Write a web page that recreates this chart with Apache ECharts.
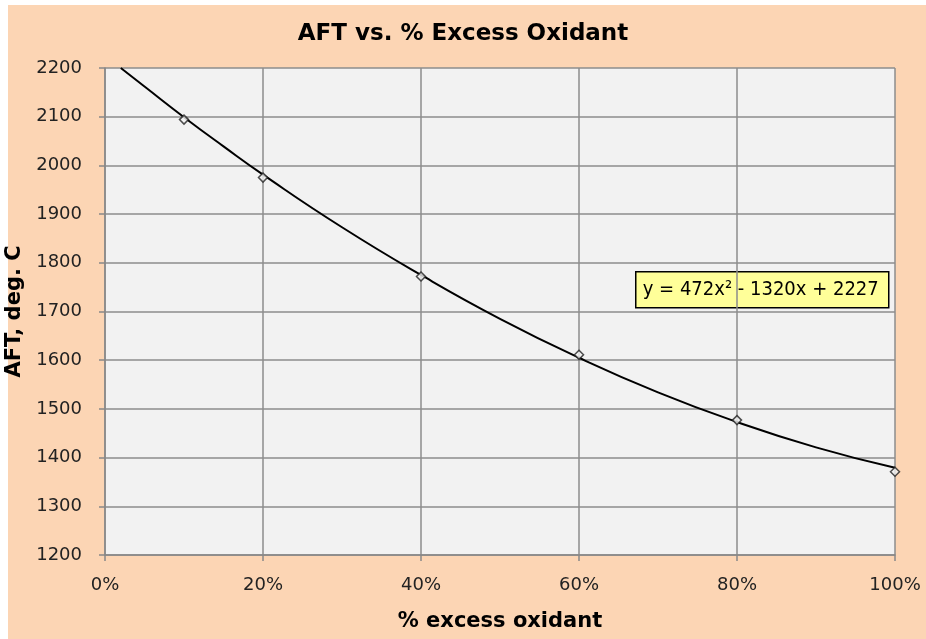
<!DOCTYPE html>
<html><head><meta charset="utf-8">
<script src="https://cdn.jsdelivr.net/npm/echarts@6/dist/echarts.min.js"></script>
<style>html,body{margin:0;padding:0;background:#fff}#c{width:926px;height:639px}</style>
</head><body><div id="c"></div>
<script>
// measured data points (fraction excess oxidant, AFT deg C)
var pointX = [0.1, 0.2, 0.4, 0.6, 0.8, 1.0];
var pointY = [2094, 1975, 1772, 1611, 1477, 1371];
// trendline
var trendX = [0.02, 0.05, 0.1, 0.15, 0.2, 0.3, 0.4, 0.5, 0.6, 0.7, 0.8, 0.9, 1.0];
var trendY = [2200, 2162, 2099, 2039, 1981, 1873, 1775, 1685, 1605, 1534, 1473, 1421, 1379];
var xTicks = [0, 0.2, 0.4, 0.6, 0.8, 1.0];
var yTicks = [1200, 1300, 1400, 1500, 1600, 1700, 1800, 1900, 2000, 2100, 2200];
var equation = 'y = 472x² - 1320x + 2227';

var chart = echarts.init(document.getElementById('c'));
var pts = pointX.map(function(x,i){return [x, pointY[i]];});
var trend = trendX.map(function(x,i){return [x, trendY[i]];});
var boldFont = '"DejaVu Sans", sans-serif';
chart.setOption({
  backgroundColor: '#ffffff',
  animation: false,
  graphic: [
    {type:'rect', z:-10, shape:{x:8,y:5,width:918,height:634}, style:{fill:'#FCD5B4'}},
    {type:'group', left:635, top:271, z:100, children:[
      {type:'rect', shape:{x:0,y:0,width:253,height:36}, style:{fill:'#FFFF99', stroke:'#000', lineWidth:1.5}},
      {type:'text', x:7, y:18, style:{text:equation, fill:'#000', font:'20px "DejaVu Sans Condensed", "DejaVu Sans", sans-serif', verticalAlign:'middle'}}
    ]}
  ],
  title: {
    text: 'AFT vs. % Excess Oxidant', left: 'center', top: 18,
    textStyle: {fontFamily:boldFont, fontWeight:'bold', fontSize:23, color:'#000'}
  },
  grid: {left:105, top:68, right:31, bottom:84, show:true, backgroundColor:'#F2F2F2', borderWidth:0,
         containLabel:false, outerBoundsMode:'none'},
  xAxis: {
    type:'value', min:0, max:1, interval:0.2,
    name:'% excess oxidant', nameLocation:'middle', nameGap:56,
    nameTextStyle:{fontFamily:boldFont, fontWeight:'bold', fontSize:21, color:'#000'},
    axisLine:{show:true, lineStyle:{color:'#888', width:1.5}},
    axisTick:{show:true, length:6, lineStyle:{color:'#888', width:1.5}},
    splitLine:{show:true, lineStyle:{color:'#8c8c8c', width:1.5}},
    axisLabel:{margin:21, fontSize:18, color:'#222', fontFamily:'"DejaVu Sans", sans-serif',
      formatter:function(v){ for (var i=0;i<xTicks.length;i++){ if (Math.abs(v-xTicks[i])<1e-9) return Math.round(xTicks[i]*100)+'%'; } return ''; }}
  },
  yAxis: {
    type:'value', min:1200, max:2200, interval:100,
    name:'AFT, deg. C', nameLocation:'middle', nameGap:80, nameMoveOverlap:false,
    nameTextStyle:{fontFamily:boldFont, fontWeight:'bold', fontSize:21, color:'#000'},
    axisLine:{show:true, lineStyle:{color:'#888', width:1.5}},
    axisTick:{show:true, length:6, lineStyle:{color:'#888', width:1.5}},
    splitLine:{show:true, lineStyle:{color:'#8c8c8c', width:1.5}},
    axisLabel:{margin:23, fontSize:18, color:'#222', fontFamily:'"DejaVu Sans", sans-serif',
      formatter:function(v){ return yTicks.indexOf(v) >= 0 ? String(v) : ''; }}
  },
  series: [
    {type:'line', data:trend, smooth:true, showSymbol:false, symbol:'none',
     lineStyle:{color:'#000', width:2}, z:3},
    {type:'scatter', data:pts, symbol:'diamond', symbolSize:9,
     itemStyle:{color:'#F2F2F2', borderColor:'#222', borderWidth:1.5}, z:4}
  ]
});
</script></body></html>
